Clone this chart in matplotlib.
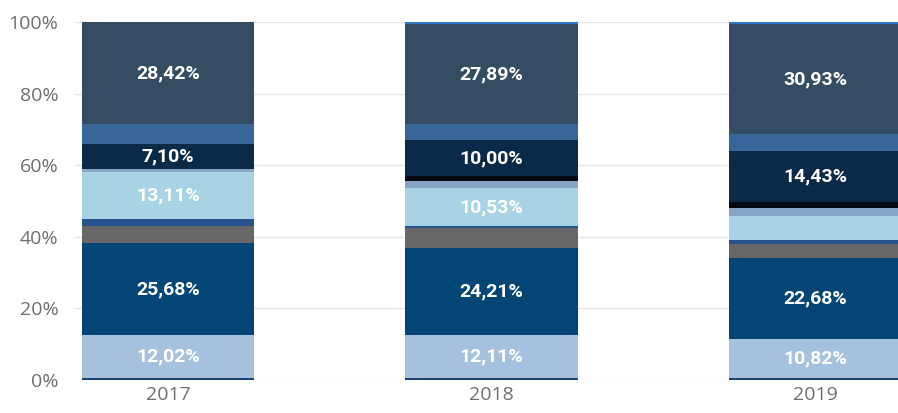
import matplotlib.pyplot as plt
import numpy as np

years = ['2017', '2018', '2019']

# segment shares per year, bottom to top (percent)
seg_base    = [0.5, 0.5, 0.5]
seg_lblue   = [12.02, 12.11, 10.82]
seg_dblue   = [25.68, 24.21, 22.68]
seg_grey    = [4.7, 5.5, 4.0]
seg_thin    = [2.0, 0.7, 1.2]
seg_cyan    = [13.11, 10.53, 6.6]
seg_greybl  = [0.9, 2.0, 2.2]
seg_black   = [0.0, 1.4, 1.6]
seg_navy    = [7.10, 10.00, 14.43]
seg_mblue   = [5.5, 4.5, 4.6]
seg_slate   = [28.42, 27.89, 30.93]
seg_top     = [0.0, 0.6, 0.6]

series = [seg_base, seg_lblue, seg_dblue, seg_grey, seg_thin, seg_cyan,
          seg_greybl, seg_black, seg_navy, seg_mblue, seg_slate, seg_top]
colors = ['#1d4373', '#a5c1dd', '#034675', '#676767', '#25528a', '#a7d3e5',
          '#87a3c6', '#050a12', '#0b2a47', '#376799', '#344d63', '#2f78c4']
# which series get a value label
labelled = [False, True, True, False, False, True,
            False, False, True, False, True, False]
# 2019 light cyan segment has no label
hide = {(5, 2)}

fig = plt.figure(figsize=(8.98, 4.13), dpi=100)
ax = fig.add_axes([75/898, 33/413, 1 - 75/898, 358/413])

x = np.arange(len(years))
width = 0.532
bottom = np.zeros(len(years))
for i, (vals, c) in enumerate(zip(series, colors)):
    vals = np.array(vals)
    ax.bar(x, vals, width, bottom=bottom, color=c, linewidth=0, zorder=2)
    if labelled[i]:
        for j in range(len(years)):
            if (i, j) in hide:
                continue
            txt = f'{vals[j]:.2f}%'.replace('.', ',')
            ax.text(x[j], bottom[j] + vals[j] / 2, txt, ha='center', va='center',
                    color='white', fontsize=14, fontweight='bold',
                    family='Roboto', zorder=3)
    bottom += vals

ax.set_xlim(-0.2875, 2.2566)
ax.set_ylim(0, 100)
ax.set_yticks([0, 20, 40, 60, 80, 100])
ax.set_yticklabels([f'{v}%' for v in [0, 20, 40, 60, 80, 100]])
ax.set_xticks(x)
ax.set_xticklabels(years)
ax.tick_params(axis='both', length=0, colors='#6e6e6e', labelsize=14)
ax.tick_params(axis='y', pad=12)
ax.tick_params(axis='x', pad=4)
for lab in ax.get_xticklabels() + ax.get_yticklabels():
    lab.set_family('Open Sans')
ax.grid(axis='y', color='#e6e6e6', linewidth=1, zorder=0)
ax.set_axisbelow(True)
for s in ax.spines.values():
    s.set_visible(False)

plt.savefig('out.png', dpi=100)
